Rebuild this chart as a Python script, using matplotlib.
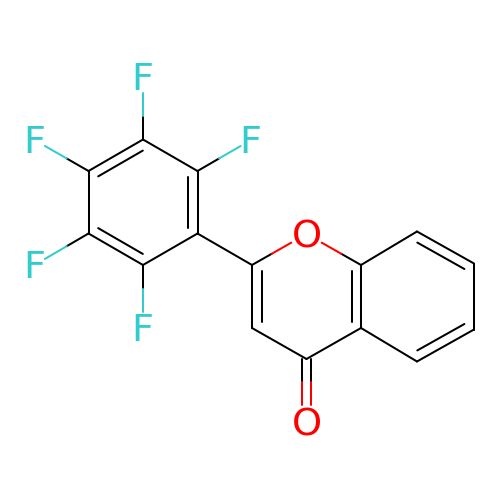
import numpy as np
import matplotlib
matplotlib.use("Agg")
import matplotlib.pyplot as plt

# atom positions, in image pixels
atom_names = ["C1", "C2", "C3", "C4", "C5", "C6", "F1", "F2", "F3", "F4", "F5",
              "C7", "O1", "C8", "C9", "C10", "C11", "C12", "C13", "C14", "C15", "O2"]
atom_x = [143, 197.5, 197.5, 143, 88.5, 88.5, 143, 251, 143, 34.5, 34.5,
          252, 306.5, 361, 361, 306.5, 252, 417, 474, 474, 417, 306.5]
atom_y = [139.5, 171, 233.5, 265, 233.5, 171, 77, 140, 328, 265, 140,
          265, 234, 265, 328, 359, 328, 231.5, 263.5, 329.5, 361.5, 422]

# single bonds
single_bonds = [("C1", "C2"), ("C3", "C4"), ("C5", "C6"), ("C3", "C7"),
                ("C9", "C10"), ("C10", "C11"), ("C8", "C12"), ("C13", "C14"),
                ("C15", "C9")]
# bonds that stop short of a label (from, to, gap)
label_bonds = [("C1", "F1", 16), ("C2", "F2", 12), ("C4", "F3", 16),
               ("C5", "F4", 12), ("C6", "F5", 12), ("C7", "O1", 17.5),
               ("C8", "O1", 17.5)]

# ring double bonds (from, to, ring the inner line goes towards)
ring_bonds = [("C2", "C3", "A"), ("C4", "C5", "A"), ("C6", "C1", "A"),
              ("C7", "C11", "B"), ("C8", "C9", "B"), ("C12", "C13", "C"),
              ("C14", "C15", "C")]
ring_centers = {"A": ("C1", "C4"), "B": ("O1", "C10"), "C": ("C12", "C14")}

labels = [("F1", "F"), ("F2", "F"), ("F3", "F"), ("F4", "F"), ("F5", "F"),
          ("O1", "O"), ("O2", "O")]

colors = {"F": "#33CCCC", "O": "#FF0000", "C": "#000000"}
lw = 1.45

pos = {n: np.array([x, y], dtype=float) for n, x, y in zip(atom_names, atom_x, atom_y)}

fig = plt.figure(figsize=(5, 5), dpi=100)
ax = fig.add_axes([0, 0, 1, 1])
ax.set_xlim(0, 500)
ax.set_ylim(500, 0)
ax.axis("off")


def seg(a, b, color="#000000"):
    ax.plot([a[0], b[0]], [a[1], b[1]], color=color, lw=lw, solid_capstyle="round")


for a, b in single_bonds:
    seg(pos[a], pos[b])

for a, b, gap in label_bonds:
    p, q = pos[a], pos[b]
    d = q - p
    end = q - d / np.linalg.norm(d) * gap
    mid = (p + end) / 2
    seg(p, mid)
    seg(mid, end, colors[b[0]])

for a, b, ring in ring_bonds:
    p, q = pos[a], pos[b]
    seg(p, q)
    c = (pos[ring_centers[ring][0]] + pos[ring_centers[ring][1]]) / 2
    d = (q - p) / np.linalg.norm(q - p)
    n = np.array([-d[1], d[0]])
    if np.dot(c - p, n) < 0:
        n = -n
    seg(p + d * 5.7 + n * 9.5, q - d * 5.7 + n * 9.5)

# carbonyl
p, q = pos["C10"], pos["O2"]
for off in (-4.7, 4.7):
    shift = np.array([off, 0])
    end = np.array([q[0], q[1] - 17]) + shift
    mid = (p + shift + end) / 2
    seg(p + shift, mid)
    seg(mid, end, colors["O"])

for name, txt in labels:
    dx = -0.7 if txt == "F" else 0
    ax.text(pos[name][0] + dx, pos[name][1] - 1, txt, color=colors[txt], fontsize=27.5,
            family="DejaVu Sans", ha="center", va="center_baseline")

fig.savefig("out.png", dpi=100, facecolor="white")
